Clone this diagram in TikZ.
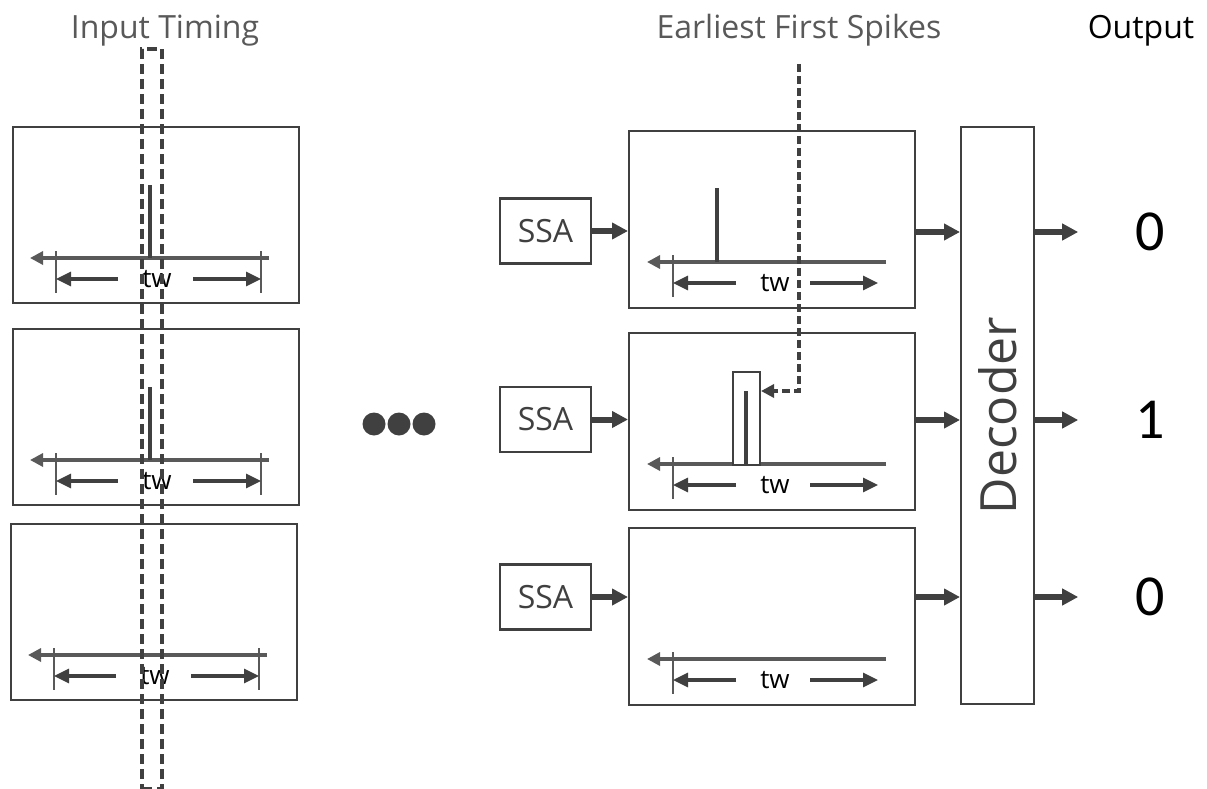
\documentclass[tikz,border=0pt]{standalone}
\usepackage{fontspec}
\setmainfont{Open Sans}
\newfontfamily\calfont{Carlito}
\usetikzlibrary{arrows.meta,calc}
\definecolor{linegray}{HTML}{404040}
\definecolor{axisgray}{HTML}{595959}
\definecolor{labelgray}{HTML}{595959}

\tikzset{
  box/.style={draw=linegray, line width=2.2pt, fill=white, inner sep=0pt, anchor=north west},
  panel/.style={box, minimum width=286pt, minimum height=176pt},
  ssabox/.style={draw=linegray, line width=2.2pt, fill=white, inner sep=0pt,
    minimum width=91pt, minimum height=65pt, text=linegray,
    font=\fontsize{32}{36}\selectfont},
  title/.style={anchor=base, text=labelgray, font=\fontsize{32}{36}\selectfont},
  digit/.style={text=black, font=\calfont\fontsize{58}{62}\selectfont},
  twlabel/.style={text=black, inner sep=1pt, font=\fontsize{26}{30}\selectfont},
  axisline/.style={draw=axisgray, line width=3.2pt, -{Triangle[length=13pt,width=13pt]}},
  tickline/.style={draw=axisgray, line width=1.5pt},
  twarrow/.style={draw=linegray, line width=3.2pt, -{Triangle[length=15pt,width=14pt]}},
  spike/.style={draw=linegray, line width=4.5pt},
  feed/.style={draw=linegray, line width=6pt, -{Triangle[length=16pt,width=16pt]}},
  dashwin/.style={draw=linegray, line width=4pt, dash pattern=on 10pt off 5pt,
    inner sep=0pt, anchor=north west},
  dashlink/.style={draw=linegray, line width=4pt, dash pattern=on 8pt off 4pt,
    -{Triangle[length=13pt,width=13pt]}},
  leftscale/.pic={
    \draw[axisline] (257,132) -- (18,132);
    \draw[tickline] (44,125) -- (44,167);
    \draw[tickline] (249,125) -- (249,167);
    \draw[twarrow] (106,153) -- (44,153);
    \draw[twarrow] (181,153) -- (249,153);
    \node[twlabel] at (145,153) {tw};
  },
  rightscale/.pic={
    \draw[axisline] (258,132) -- (19,132);
    \draw[tickline] (45,125) -- (45,167);
    \draw[twarrow] (108,153) -- (45,153);
    \draw[twarrow] (182,153) -- (250,153);
    \node[twlabel] at (147,153) {tw};
  }
}

\begin{document}
\begin{tikzpicture}[x=1pt,y=-1pt]
\useasboundingbox (0,0) rectangle (1207,789);

% headings
\node[title] (tIn) at (165,39) {Input Timing};
\node[title] (tEfs) at (799,39) {Earliest First Spikes};
\node[title, text=black] (tOut) at (1141,39) {Output};

% input panels
\node[panel] (L1) at (12,126) {};
\node[panel] (L2) at (12,328) {};
\node[panel] (L3) at (10,523) {};
\pic at (L1.north west) {leftscale};
\pic at (L2.north west) {leftscale};
\pic at (L3.north west) {leftscale};
\draw[spike] (150,185) -- (150,258);
\draw[spike] (150,387) -- (150,460);

% ellipsis
\fill[linegray] (374,424) circle[radius=11.5pt];
\fill[linegray] (399,424) circle[radius=11.5pt];
\fill[linegray] (424,424) circle[radius=11.5pt];

% SSA stages
\node[ssabox] (s1) at (545.5,231) {SSA};
\node[ssabox] (s2) at (545.5,419.5) {SSA};
\node[ssabox] (s3) at (545.5,597) {SSA};

\node[panel, minimum height=177pt] (R1) at (628,130) {};
\node[panel, minimum height=177pt] (R2) at (628,332) {};
\node[panel, minimum height=177pt] (R3) at (628,527) {};
\pic at (R1.north west) {rightscale};
\pic at (R2.north west) {rightscale};
\pic at (R3.north west) {rightscale};
\draw[spike] (717,188) -- (717,262);

% earliest spike window
\node[box, line width=2pt, minimum width=27pt, minimum height=93pt] (win) at (732,371) {};
\draw[spike] (746,391) -- (746,464);

% decoder
\node[box, minimum width=73pt, minimum height=577pt] (dec) at (960,126) {};
\node[rotate=90, text=linegray, font=\fontsize{50}{56}\selectfont] (decl) at (dec.center) {Decoder};

% outputs
\node[digit] (o1) at (1150,232) {0};
\node[digit] (o2) at (1150,420) {1};
\node[digit] (o3) at (1150,597) {0};

% connectors
\draw[feed] (s1.east) -- (s1.east -| R1.west);
\draw[feed] (s2.east) -- (s2.east -| R2.west);
\draw[feed] (s3.east) -- (s3.east -| R3.west);
\draw[feed] (R1.east |- o1) -- (dec.west |- o1);
\draw[feed] (R2.east |- o2) -- (dec.west |- o2);
\draw[feed] (R3.east |- o3) -- (dec.west |- o3);
\draw[feed] (dec.east |- o1) -- ++(43,0);
\draw[feed] (dec.east |- o2) -- ++(43,0);
\draw[feed] (dec.east |- o3) -- ++(43,0);

% timing window across the inputs
\node[dashwin, minimum width=20pt, minimum height=740pt] (tw0) at (140,47) {};

% pointer to the earliest spike
\coordinate (efs) at (799,64);
\coordinate (hit) at ($(win.north east)+(0,20)$);
\draw[dashlink] (efs) |- (hit);
\end{tikzpicture}
\end{document}
